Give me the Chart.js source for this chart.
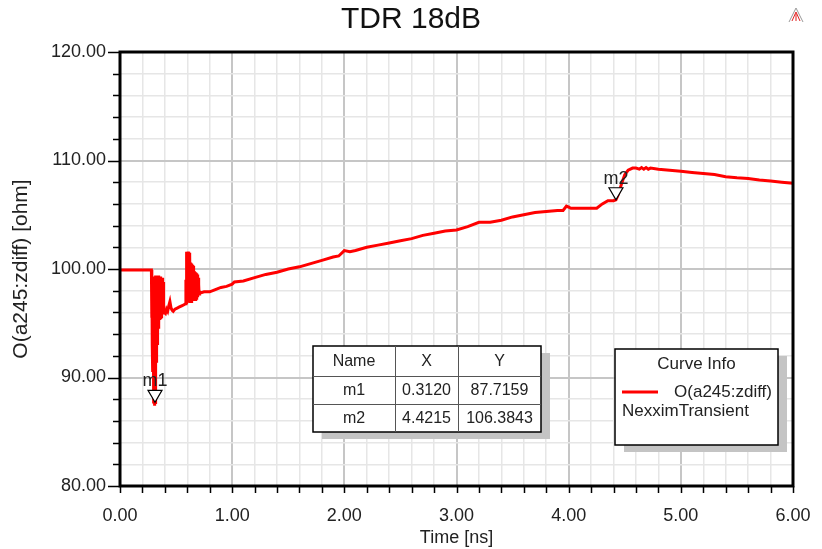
<!DOCTYPE html>
<html>
<head>
<meta charset="utf-8">
<title>TDR 18dB</title>
<script src="https://cdn.jsdelivr.net/npm/chart.js@4.4.1/dist/chart.umd.min.js"></script>
<style>
  html, body { margin: 0; padding: 0; background: #fff; }
  canvas { display: block; }
</style>
</head>
<body>
<canvas id="tdr" width="822" height="549"></canvas>
<script>
// TDR trace, differential impedance vs time
const timeNs = [
  0.00, 0.280,
  // reflection ringing at the launch
  0.2825, 0.285, 0.2875, 0.290, 0.2925, 0.295, 0.2975, 0.300, 0.3025, 0.305,
  0.3075, 0.310, 0.3125, 0.315, 0.3175, 0.320, 0.3225, 0.325, 0.3275, 0.330,
  0.3325, 0.335, 0.3375, 0.340, 0.3425, 0.345, 0.3475, 0.350, 0.3525, 0.355,
  0.3575, 0.360, 0.3625, 0.365, 0.3675, 0.370, 0.3725, 0.375, 0.3775, 0.380,
  0.3825, 0.385, 0.3875, 0.390,
  0.395, 0.405, 0.415, 0.425, 0.435, 0.445, 0.455, 0.465, 0.475, 0.49,
  0.51, 0.53, 0.55, 0.57,
  // second ringing burst
  0.585, 0.5875, 0.590, 0.5925, 0.595, 0.5975, 0.600, 0.6025, 0.605, 0.6075,
  0.610, 0.6125, 0.615, 0.6175, 0.620, 0.6225, 0.625, 0.6275, 0.630, 0.6325,
  0.635, 0.6375, 0.640, 0.6425, 0.645, 0.6475, 0.650, 0.6525, 0.655, 0.6575,
  0.660, 0.6625, 0.665, 0.6675, 0.670, 0.6725, 0.675, 0.6775, 0.680, 0.6825,
  0.685, 0.6875, 0.690, 0.6925, 0.695, 0.6975, 0.700, 0.7025, 0.705, 0.710,
  0.72,
  // trace body
  0.75, 0.80, 0.85, 0.90, 0.95, 1.00, 1.02, 1.10, 1.20, 1.30,
  1.40, 1.50, 1.60, 1.70, 1.80, 1.90, 1.95, 2.00, 2.05, 2.10,
  2.20, 2.30, 2.40, 2.50, 2.60, 2.70, 2.80, 2.90, 3.00, 3.10,
  3.20, 3.30, 3.40, 3.50, 3.60, 3.70, 3.80, 3.90, 3.95, 3.98,
  4.00, 4.02, 4.25, 4.30, 4.35, 4.40, 4.4215, 4.44, 4.47, 4.50,
  4.53, 4.57, 4.60, 4.63, 4.65, 4.67, 4.69, 4.71, 4.73, 4.80,
  4.90, 5.00, 5.10, 5.20, 5.30, 5.40, 5.50, 5.60, 5.70, 5.80,
  5.90, 6.00
];
const zdiffOhm = [
  99.9, 99.9,
  95.5, 99.4, 93.0, 99.3, 90.5, 99.3, 88.5, 96.0, 87.6, 93.0,
  87.4, 90.0, 87.7, 92.0, 89.5, 99.4, 91.5, 99.4, 92.5, 99.4,
  93.0, 99.4, 94.0, 99.4, 94.5, 99.4, 95.0, 99.3, 95.3, 99.3,
  95.5, 99.3, 95.6, 99.3, 95.6, 99.2, 95.7, 99.2, 95.8, 99.0,
  95.8, 98.8, 95.9, 96.2,
  96.0, 95.9, 96.3, 96.1, 96.6, 97.0, 96.4, 96.2, 96.1, 96.3,
  96.4, 96.5, 96.6, 96.7,
  96.8, 99.0, 96.9, 101.6, 96.9, 101.6, 96.9, 101.6, 97.0, 101.6,
  97.0, 101.5, 97.0, 101.5, 97.0, 101.3, 97.0, 100.6, 97.0, 100.5,
  97.0, 100.5, 97.1, 100.4, 97.1, 100.4, 97.1, 100.3, 97.1, 100.0,
  97.2, 99.8, 97.2, 99.7, 97.2, 99.7, 97.3, 99.6, 97.3, 99.6,
  97.4, 99.5, 97.4, 99.5, 97.5, 99.2, 97.6, 98.6, 97.7, 97.9,
  97.8,
  97.9, 97.9, 98.1, 98.3, 98.4, 98.6, 98.8, 98.9, 99.2, 99.5,
  99.7, 100.0, 100.2, 100.5, 100.8, 101.1, 101.2, 101.7, 101.6, 101.7,
  102.0, 102.2, 102.4, 102.6, 102.8, 103.1, 103.3, 103.5, 103.6, 103.9,
  104.3, 104.3, 104.5, 104.8, 105.0, 105.2, 105.3, 105.4, 105.4, 105.8,
  105.7, 105.6, 105.6, 106.0, 106.3, 106.3, 106.38, 106.8, 107.8, 108.7,
  109.1, 109.3, 109.3, 109.2, 109.35, 109.2, 109.35, 109.2, 109.3, 109.2,
  109.1, 109.0, 108.9, 108.8, 108.7, 108.5, 108.4, 108.35, 108.2, 108.1,
  108.0, 107.9
];

// markers
const markerNames = ['m1', 'm2'];
const markerX = [0.3120, 4.4215];
const markerY = [87.7159, 106.3843];

// axis ticks
const xMin = 0, xMax = 6, xMinor = 0.2;
const yMin = 80, yMax = 120, yMinor = 2;

const FONT = "'Liberation Sans', Arial, sans-serif";

const isMajorX = v => Math.abs(v - Math.round(v)) < 1e-6;
const isMajorY = v => Math.abs(v / 10 - Math.round(v / 10)) < 1e-6;

// title, frame, tick marks, markers, marker table, curve info box
const decorations = {
  id: 'decorations',
  afterDraw(chart) {
    const ctx = chart.ctx;
    const a = chart.chartArea;
    const xs = chart.scales.x, ys = chart.scales.y;
    ctx.save();

    // title, centred on the page
    ctx.font = '30px ' + FONT;
    ctx.fillStyle = '#111';
    ctx.textAlign = 'center';
    ctx.textBaseline = 'middle';
    ctx.fillText('TDR 18dB', chart.width / 2, 20);

    // tick marks outside the frame
    ctx.strokeStyle = '#000';
    ctx.lineWidth = 1.5;
    ctx.beginPath();
    xs.ticks.forEach(t => {
      const px = Math.round(xs.getPixelForValue(t.value)) + 0.5;
      ctx.moveTo(px, a.bottom);
      ctx.lineTo(px, a.bottom + 7);
    });
    ys.ticks.forEach(t => {
      const py = Math.round(ys.getPixelForValue(t.value)) + 0.5;
      ctx.moveTo(a.left, py);
      ctx.lineTo(a.left - (isMajorY(t.value) ? 12 : 7), py);
    });
    ctx.stroke();

    // frame
    ctx.lineWidth = 3;
    ctx.strokeRect(a.left, a.top, a.right - a.left, a.bottom - a.top);

    // markers
    ctx.font = '18px ' + FONT;
    ctx.textAlign = 'center';
    ctx.textBaseline = 'alphabetic';
    markerNames.forEach((name, i) => {
      const px = xs.getPixelForValue(markerX[i]);
      const py = ys.getPixelForValue(markerY[i]);
      ctx.beginPath();
      ctx.moveTo(px, py);
      ctx.lineTo(px - 7, py - 12);
      ctx.lineTo(px + 7, py - 12);
      ctx.closePath();
      ctx.fillStyle = '#fff';
      ctx.fill();
      ctx.lineWidth = 1.2;
      ctx.strokeStyle = '#000';
      ctx.stroke();
      ctx.fillStyle = '#222';
      ctx.fillText(name, px, py - 16);
    });

    // marker table
    const tb = { l: 313, t: 346, r: 541, b: 432 };
    const cols = [313, 395, 458, 541];
    const rows = [346, 376, 404, 432];
    ctx.fillStyle = '#c4c4c4';
    ctx.fillRect(tb.l + 9, tb.t + 7, tb.r - tb.l, tb.b - tb.t);
    ctx.fillStyle = '#fff';
    ctx.fillRect(tb.l, tb.t, tb.r - tb.l, tb.b - tb.t);
    ctx.strokeStyle = '#000';
    ctx.lineWidth = 1.5;
    ctx.strokeRect(tb.l, tb.t, tb.r - tb.l, tb.b - tb.t);
    ctx.lineWidth = 1;
    ctx.strokeStyle = '#555';
    ctx.beginPath();
    cols.slice(1, 3).forEach(c => { ctx.moveTo(c + 0.5, tb.t); ctx.lineTo(c + 0.5, tb.b); });
    rows.slice(1, 3).forEach(r => { ctx.moveTo(tb.l, r + 0.5); ctx.lineTo(tb.r, r + 0.5); });
    ctx.stroke();
    const cells = [['Name', 'X', 'Y']].concat(
      markerNames.map((n, i) => [n, markerX[i].toFixed(4), markerY[i].toFixed(4)])
    );
    ctx.font = '16px ' + FONT;
    ctx.fillStyle = '#222';
    ctx.textBaseline = 'middle';
    cells.forEach((row, r) => {
      row.forEach((txt, c) => {
        ctx.fillText(txt, (cols[c] + cols[c + 1]) / 2, (rows[r] + rows[r + 1]) / 2 + 1);
      });
    });

    // curve info box
    const cb = { l: 615, t: 349, r: 778, b: 445 };
    ctx.fillStyle = '#c4c4c4';
    ctx.fillRect(cb.l + 9, cb.t + 7, cb.r - cb.l, cb.b - cb.t);
    ctx.fillStyle = '#fff';
    ctx.fillRect(cb.l, cb.t, cb.r - cb.l, cb.b - cb.t);
    ctx.strokeStyle = '#000';
    ctx.lineWidth = 1.5;
    ctx.strokeRect(cb.l, cb.t, cb.r - cb.l, cb.b - cb.t);
    ctx.font = '17px ' + FONT;
    ctx.fillStyle = '#222';
    ctx.textAlign = 'center';
    ctx.fillText('Curve Info', (cb.l + cb.r) / 2, 364);
    ctx.strokeStyle = '#ff0000';
    ctx.lineWidth = 3;
    ctx.beginPath();
    ctx.moveTo(622, 392);
    ctx.lineTo(658, 392);
    ctx.stroke();
    ctx.textAlign = 'right';
    ctx.fillText(chart.data.datasets[0].label, 772, 392);
    ctx.textAlign = 'left';
    ctx.fillText('NexximTransient', 622, 411);

    // small logo, top right
    ctx.lineWidth = 1;
    ctx.strokeStyle = '#999';
    ctx.beginPath();
    ctx.moveTo(789, 22); ctx.lineTo(796, 8); ctx.lineTo(803, 22);
    ctx.stroke();
    ctx.strokeStyle = '#e02020';
    ctx.beginPath();
    ctx.moveTo(792, 21); ctx.lineTo(796, 12); ctx.lineTo(800, 21);
    ctx.moveTo(796, 14); ctx.lineTo(796, 21);
    ctx.stroke();

    ctx.restore();
  }
};

new Chart(document.getElementById('tdr'), {
  type: 'line',
  data: {
    datasets: [{
      label: 'O(a245:zdiff)',
      data: timeNs.map((t, i) => ({ x: t, y: zdiffOhm[i] })),
      borderColor: '#ff0000',
      borderWidth: 3,
      pointRadius: 0,
      tension: 0,
      fill: false
    }]
  },
  options: {
    responsive: false,
    animation: false,
    events: [],
    layout: { padding: { top: 52, right: 29, bottom: 0, left: 0 } },
    plugins: {
      legend: { display: false },
      tooltip: { enabled: false },
      title: { display: false }
    },
    scales: {
      x: {
        type: 'linear',
        min: xMin,
        max: xMax,
        afterFit(scale) {
          scale.height = 63;
          scale.paddingLeft = 0;
          scale.paddingRight = 0;
        },
        afterBuildTicks(scale) {
          const ticks = [];
          for (let i = 0; i <= Math.round((xMax - xMin) / xMinor); i++) {
            ticks.push({ value: +(xMin + i * xMinor).toFixed(4) });
          }
          scale.ticks = ticks;
        },
        ticks: {
          autoSkip: false,
          maxRotation: 0,
          padding: 19,
          color: '#222',
          font: { family: FONT, size: 18 },
          callback: v => isMajorX(v) ? v.toFixed(2) : ''
        },
        grid: {
          drawTicks: false,
          color: c => isMajorX(c.tick.value) ? '#c6c6c6' : '#e6e6e6',
          lineWidth: c => isMajorX(c.tick.value) ? 2 : 1.5
        },
        border: { display: false },
        title: {
          display: true,
          text: 'Time [ns]',
          color: '#222',
          font: { family: FONT, size: 18 },
          padding: { top: 1, bottom: 0 }
        }
      },
      y: {
        type: 'linear',
        min: yMin,
        max: yMax,
        afterFit(scale) { scale.width = 120; },
        afterBuildTicks(scale) {
          const ticks = [];
          for (let i = 0; i <= Math.round((yMax - yMin) / yMinor); i++) {
            ticks.push({ value: yMin + i * yMinor });
          }
          scale.ticks = ticks;
        },
        ticks: {
          autoSkip: false,
          padding: 14,
          color: '#222',
          font: { family: FONT, size: 18 },
          callback: v => isMajorY(v) ? v.toFixed(2) : ''
        },
        grid: {
          drawTicks: false,
          color: c => isMajorY(c.tick.value) ? '#c6c6c6' : '#e6e6e6',
          lineWidth: c => isMajorY(c.tick.value) ? 2 : 1.5
        },
        border: { display: false },
        title: {
          display: true,
          text: 'O(a245:zdiff) [ohm]',
          color: '#222',
          font: { family: FONT, size: 21 },
          padding: { top: 9, bottom: 0 }
        }
      }
    }
  },
  plugins: [decorations]
});
</script>
</body>
</html>
